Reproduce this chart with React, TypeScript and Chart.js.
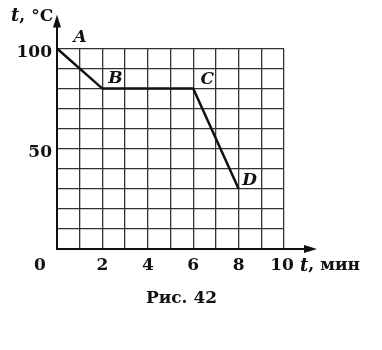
import React, { useEffect, useRef } from 'react';
import { Chart, registerables } from 'chart.js';

Chart.register(...registerables);

// ---- data ----
const timeMin = [0, 2, 6, 8];
const tempC = [100, 80, 80, 30];
const pointNames = ['A', 'B', 'C', 'D'];
const xTickValues = [2, 4, 6, 8, 10];
const yTickValues = [50, 100];
const xAxisUnit = 'мин';
const yAxisUnit = '°C';
const axisSymbol = 't';
const caption = 'Рис. 42';

// label offsets (style)
const nameOffsets = [
  [23, -11],
  [13, -10],
  [14, -9],
  [11, -8],
];

const SERIF = '"DejaVu Serif", "Liberation Serif", serif';

const decorPlugin = {
  id: 'decor',
  afterDraw(chart: any) {
    const ctx = chart.ctx as CanvasRenderingContext2D;
    const xs = chart.scales.x;
    const ys = chart.scales.y;
    const left = xs.getPixelForValue(0);
    const right = xs.getPixelForValue(10);
    const top = ys.getPixelForValue(100);
    const bottom = ys.getPixelForValue(0);
    ctx.save();
    ctx.strokeStyle = '#111';
    ctx.fillStyle = '#111';
    ctx.lineWidth = 2;
    // y axis arrow
    ctx.beginPath();
    ctx.moveTo(left, top);
    ctx.lineTo(left, top - 24);
    ctx.stroke();
    ctx.beginPath();
    ctx.moveTo(left, top - 34);
    ctx.lineTo(left - 4, top - 21);
    ctx.lineTo(left + 4, top - 21);
    ctx.closePath();
    ctx.fill();
    // x axis arrow
    ctx.beginPath();
    ctx.moveTo(right, bottom);
    ctx.lineTo(right + 22, bottom);
    ctx.stroke();
    ctx.beginPath();
    ctx.moveTo(right + 33, bottom);
    ctx.lineTo(right + 20, bottom - 4);
    ctx.lineTo(right + 20, bottom + 4);
    ctx.closePath();
    ctx.fill();

    // tick labels
    ctx.font = `bold 17px ${SERIF}`;
    ctx.textBaseline = 'middle';
    ctx.textAlign = 'center';
    xTickValues.forEach((v) => {
      const dx = v === 10 ? -2 : 0;
      ctx.fillText(String(v), xs.getPixelForValue(v) + dx, bottom + 17);
    });
    ctx.fillText('0', left - 17, bottom + 17);
    ctx.textAlign = 'right';
    yTickValues.forEach((v) => {
      ctx.fillText(String(v), left - 5, ys.getPixelForValue(v) + 4);
    });

    // axis titles
    ctx.textAlign = 'left';
    ctx.font = `italic bold 18px ${SERIF}`;
    const xT = right + 16;
    ctx.fillText(axisSymbol, xT, bottom + 17);
    let w = ctx.measureText(axisSymbol).width;
    ctx.font = `bold 17px ${SERIF}`;
    ctx.fillText(', ' + xAxisUnit, xT + w, bottom + 17);

    ctx.font = `italic bold 18px ${SERIF}`;
    const yT = left - 46;
    ctx.fillText(axisSymbol, yT, top - 32);
    w = ctx.measureText(axisSymbol).width;
    ctx.font = `bold 17px ${SERIF}`;
    ctx.fillText(', ' + yAxisUnit, yT + w, top - 32);

    // point names
    ctx.font = `italic bold 17px ${SERIF}`;
    ctx.textAlign = 'center';
    pointNames.forEach((n, i) => {
      const px = xs.getPixelForValue(timeMin[i]);
      const py = ys.getPixelForValue(tempC[i]);
      ctx.fillText(n, px + nameOffsets[i][0], py + nameOffsets[i][1]);
    });

    // caption
    ctx.font = `bold 17px ${SERIF}`;
    ctx.textAlign = 'center';
    ctx.fillText(caption, (left + right) / 2 + 11, bottom + 50);
    ctx.restore();
  },
};

export default function App() {
  const ref = useRef<HTMLCanvasElement>(null);
  useEffect(() => {
    document.body.style.margin = '0';
    const chart = new Chart(ref.current!, {
      type: 'line',
      data: {
        datasets: [
          {
            data: timeMin.map((t, i) => ({ x: t, y: tempC[i] })),
            borderColor: '#111',
            borderWidth: 2.5,
            pointRadius: 0,
            tension: 0,
            clip: false as any,
          },
        ],
      },
      options: {
        responsive: false,
        animation: false,
        layout: { padding: { left: 57, top: 48.5, right: 98, bottom: 101 } },
        plugins: { legend: { display: false }, tooltip: { enabled: false }, title: { display: false } },
        scales: {
          x: {
            type: 'linear',
            min: 0,
            max: 10,
            ticks: { display: false, stepSize: 1 },
            grid: { color: '#333', lineWidth: 1.3, drawTicks: false },
            border: { display: true, color: '#111', width: 2 },
          },
          y: {
            type: 'linear',
            min: 0,
            max: 100,
            ticks: { display: false, stepSize: 10 },
            grid: { color: '#333', lineWidth: 1.3, drawTicks: false },
            border: { display: true, color: '#111', width: 2 },
          },
        },
      },
      plugins: [decorPlugin],
    });
    return () => chart.destroy();
  }, []);
  return (
    <div style={{ width: 382, height: 350, background: '#fff' }}>
      <canvas ref={ref} width={382} height={350} style={{ display: 'block' }} />
    </div>
  );
}
